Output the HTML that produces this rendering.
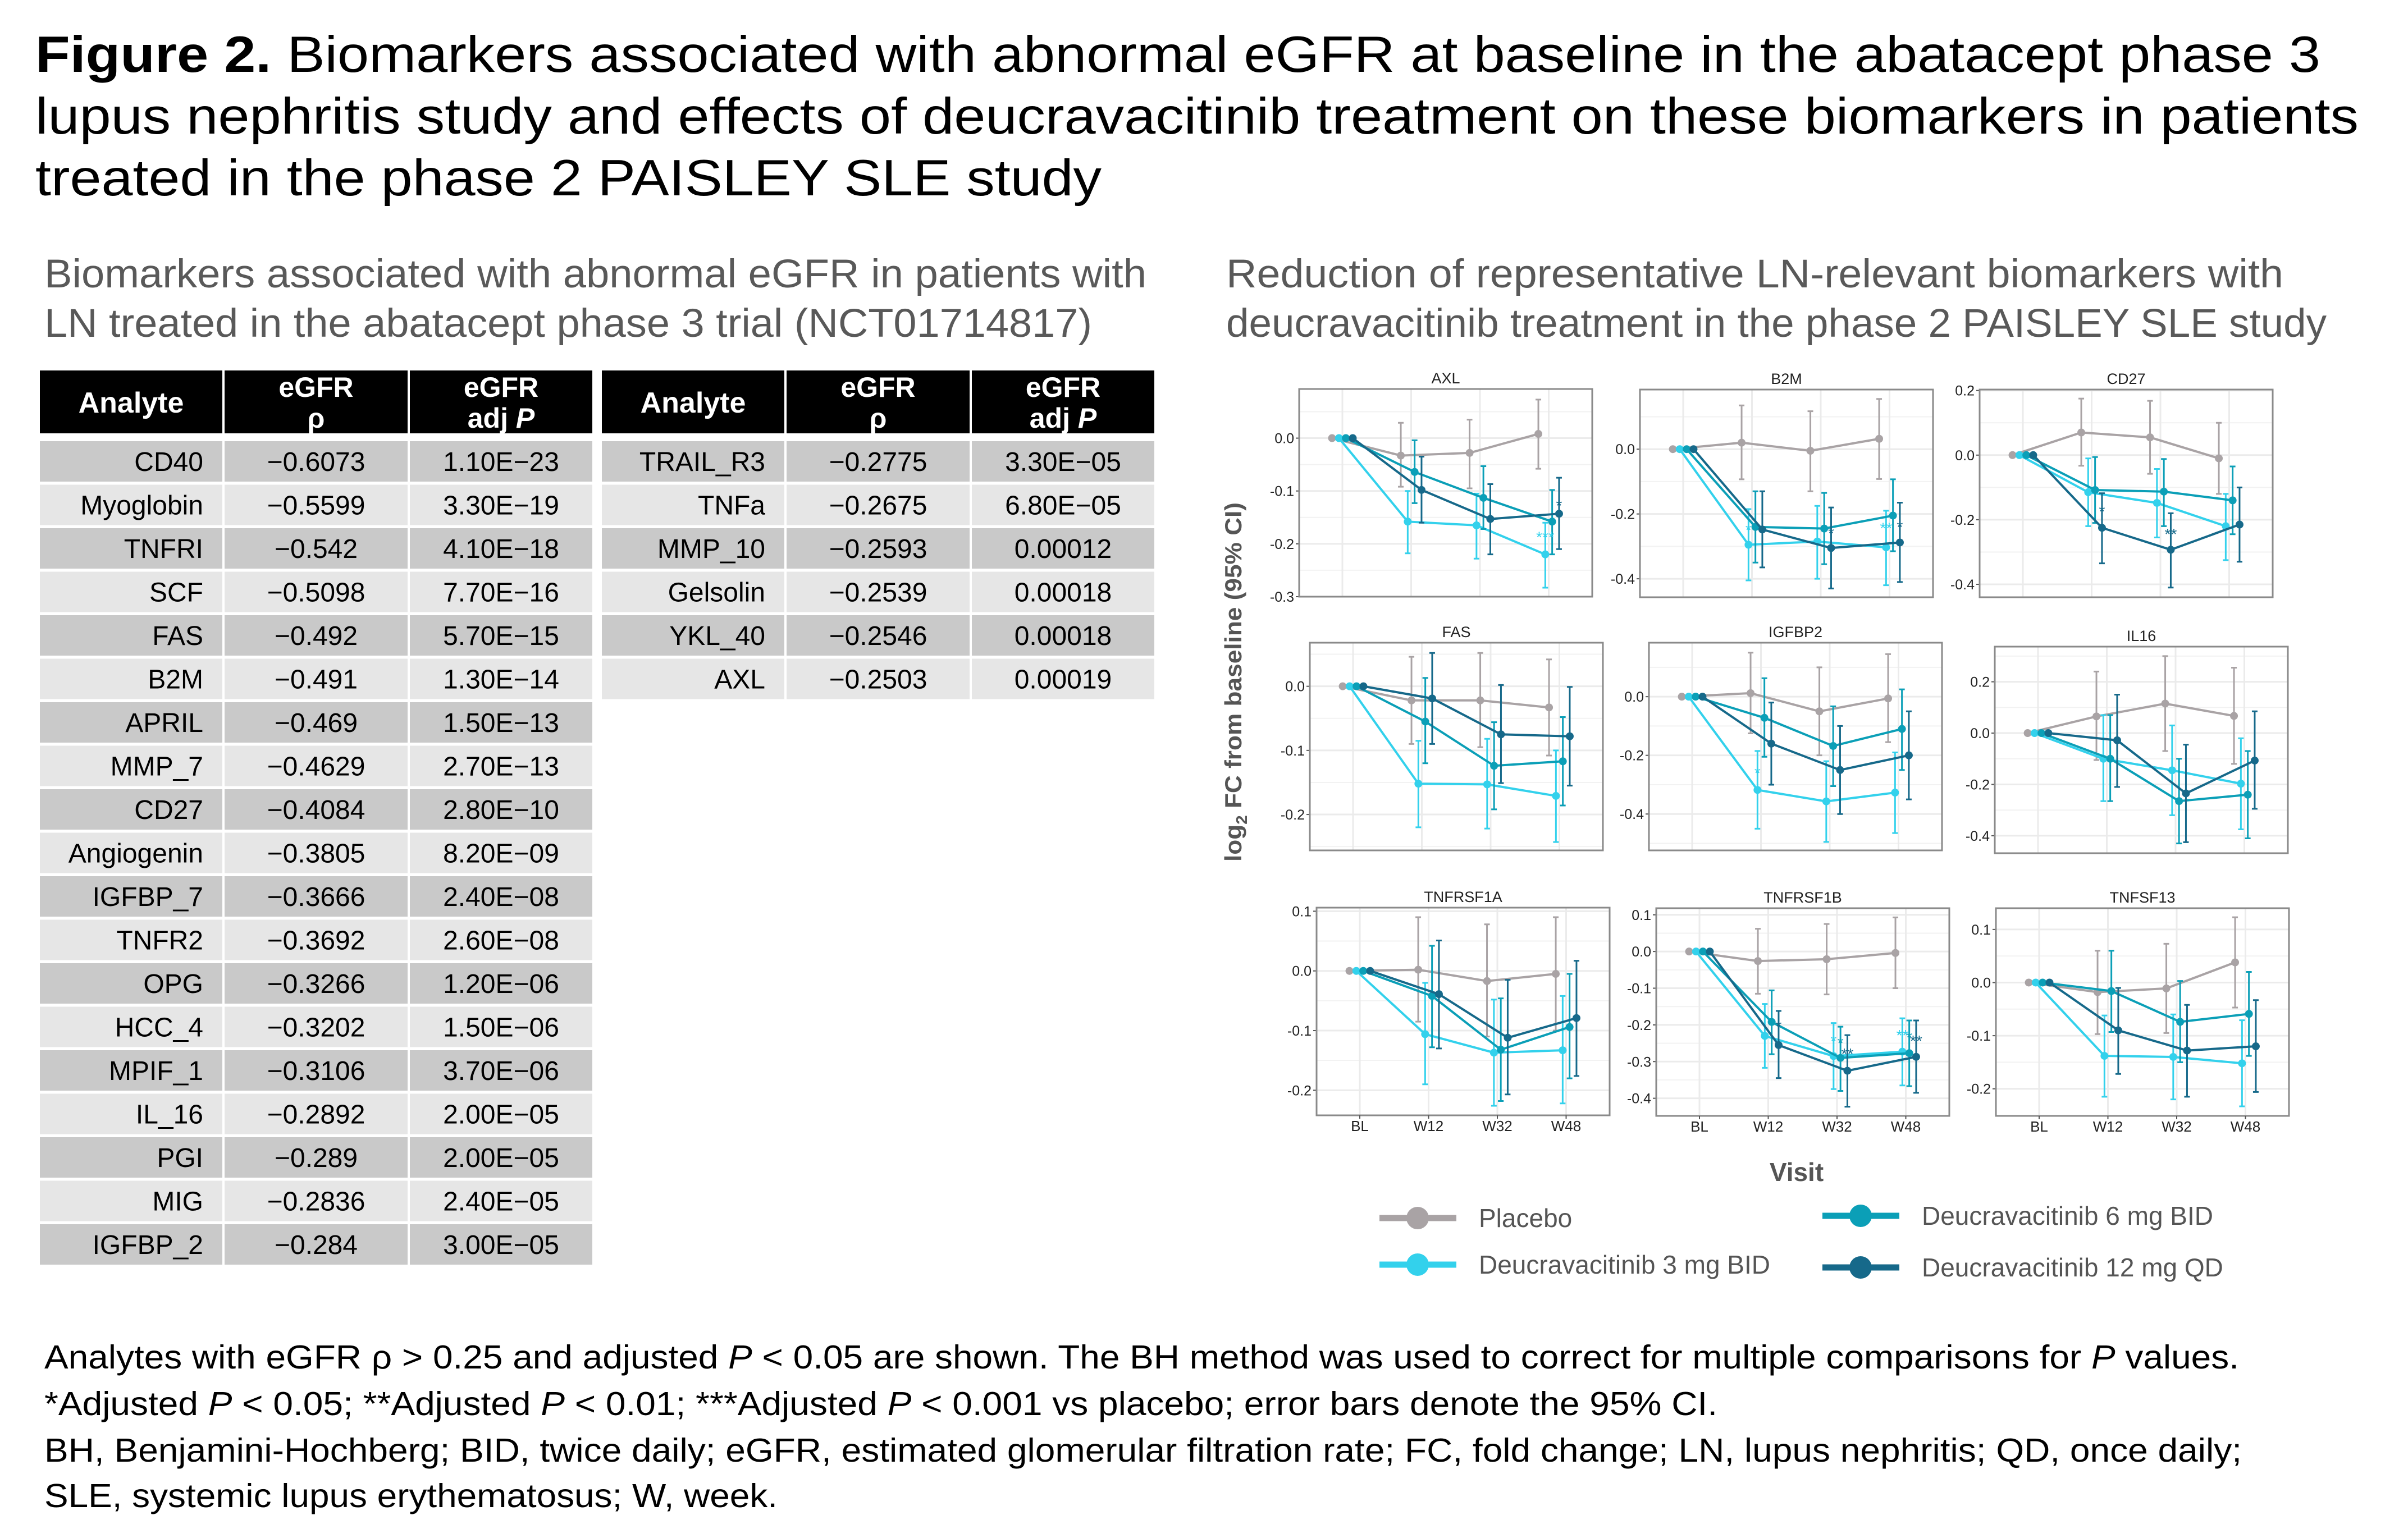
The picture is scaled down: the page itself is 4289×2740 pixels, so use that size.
<!DOCTYPE html>
<html><head><meta charset="utf-8"><title>Figure 2</title>
<style>html,body{margin:0;padding:0;background:#fff}svg{display:block}</style></head>
<body>
<svg id="fig" xmlns="http://www.w3.org/2000/svg" width="4289" height="2740" viewBox="0 0 4289 2740" font-family="'Liberation Sans', sans-serif">
<rect x="0" y="0" width="4289" height="2740" fill="#fff"/>
<g font-size="91" fill="#000">
<text x="63" y="128" textLength="4070" lengthAdjust="spacingAndGlyphs"><tspan font-weight="bold">Figure 2.</tspan> Biomarkers associated with abnormal eGFR at baseline in the abatacept phase 3</text>
<text x="63" y="238" textLength="4138" lengthAdjust="spacingAndGlyphs">lupus nephritis study and effects of deucravacitinib treatment on these biomarkers in patients</text>
<text x="63" y="348" textLength="1899" lengthAdjust="spacingAndGlyphs">treated in the phase 2 PAISLEY SLE study</text>
</g>
<g font-size="71" fill="#595959">
<text x="79" y="512" textLength="1963" lengthAdjust="spacingAndGlyphs">Biomarkers associated with abnormal eGFR in patients with</text>
<text x="79" y="600" textLength="1866" lengthAdjust="spacingAndGlyphs">LN treated in the abatacept phase 3 trial (NCT01714817)</text>
</g>
<g font-size="71" fill="#595959">
<text x="2184" y="512" textLength="1883" lengthAdjust="spacingAndGlyphs">Reduction of representative LN-relevant biomarkers with</text>
<text x="2184" y="600" textLength="1960" lengthAdjust="spacingAndGlyphs">deucravacitinib treatment in the phase 2 PAISLEY SLE study</text>
</g>
<g id="tables"></g>
<g id="charts"></g>
<text x="2211" y="1215" transform="rotate(-90 2211 1215)" text-anchor="middle" font-size="42" font-weight="bold" fill="#555" textLength="640" lengthAdjust="spacingAndGlyphs">log<tspan font-size="28" dy="10">2</tspan><tspan dy="-10"> FC from baseline (95% CI)</tspan></text>
<text x="3200" y="2104" text-anchor="middle" font-size="46" font-weight="bold" fill="#555">Visit</text>
<g id="legend"></g>
<g font-size="59" fill="#000">
<text x="79" y="2438" textLength="3909" lengthAdjust="spacingAndGlyphs">Analytes with eGFR ρ &gt; 0.25 and adjusted <tspan font-style="italic">P</tspan> &lt; 0.05 are shown. The BH method was used to correct for multiple comparisons for <tspan font-style="italic">P</tspan> values.</text>
<text x="79" y="2521" textLength="2980" lengthAdjust="spacingAndGlyphs">*Adjusted <tspan font-style="italic">P</tspan> &lt; 0.05; **Adjusted <tspan font-style="italic">P</tspan> &lt; 0.01; ***Adjusted <tspan font-style="italic">P</tspan> &lt; 0.001 vs placebo; error bars denote the 95% CI.</text>
<text x="79" y="2604" textLength="3914" lengthAdjust="spacingAndGlyphs">BH, Benjamini-Hochberg; BID, twice daily; eGFR, estimated glomerular filtration rate; FC, fold change; LN, lupus nephritis; QD, once daily;</text>
<text x="79" y="2685" textLength="1306" lengthAdjust="spacingAndGlyphs">SLE, systemic lupus erythematosus; W, week.</text>
</g>
</svg>
<script>
// ---------- table data ----------
const leftAnalytes = ["CD40","Myoglobin","TNFRI","SCF","FAS","B2M","APRIL","MMP_7","CD27","Angiogenin","IGFBP_7","TNFR2","OPG","HCC_4","MPIF_1","IL_16","PGI","MIG","IGFBP_2"];
const leftRho = ["−0.6073","−0.5599","−0.542","−0.5098","−0.492","−0.491","−0.469","−0.4629","−0.4084","−0.3805","−0.3666","−0.3692","−0.3266","−0.3202","−0.3106","−0.2892","−0.289","−0.2836","−0.284"];
const leftP = ["1.10E−23","3.30E−19","4.10E−18","7.70E−16","5.70E−15","1.30E−14","1.50E−13","2.70E−13","2.80E−10","8.20E−09","2.40E−08","2.60E−08","1.20E−06","1.50E−06","3.70E−06","2.00E−05","2.00E−05","2.40E−05","3.00E−05"];
const rightAnalytes = ["TRAIL_R3","TNFa","MMP_10","Gelsolin","YKL_40","AXL"];
const rightRho = ["−0.2775","−0.2675","−0.2593","−0.2539","−0.2546","−0.2503"];
const rightP = ["3.30E−05","6.80E−05","0.00012","0.00018","0.00018","0.00019"];

// ---------- chart data ----------
const panelNames = ["AXL","B2M","CD27","FAS","IGFBP2","IL16","TNFRSF1A","TNFRSF1B","TNFSF13"];
const visitLabels = ["BL","W12","W32","W48"];
const seriesNames = ["Placebo","Deucravacitinib 3 mg BID","Deucravacitinib 6 mg BID","Deucravacitinib 12 mg QD"];
// mean [series][W12,W32,W48]; BL = 0
const meanAXL = [[-0.033,-0.028,0.008],[-0.158,-0.165,-0.22],[-0.064,-0.113,-0.158],[-0.098,-0.153,-0.143]];
const loAXL = [[-0.092,-0.095,-0.058],[-0.218,-0.228,-0.283],[-0.123,-0.172,-0.22],[-0.16,-0.22,-0.21]];
const hiAXL = [[0.029,0.035,0.073],[-0.1,-0.105,-0.16],[-0.004,-0.053,-0.098],[-0.035,-0.087,-0.075]];
const meanB2M = [[0.02,-0.005,0.032],[-0.295,-0.285,-0.303],[-0.24,-0.245,-0.205],[-0.248,-0.305,-0.288]];
const loB2M = [[-0.093,-0.13,-0.092],[-0.405,-0.4,-0.42],[-0.35,-0.355,-0.315],[-0.365,-0.43,-0.41]];
const hiB2M = [[0.135,0.117,0.155],[-0.185,-0.175,-0.19],[-0.13,-0.135,-0.093],[-0.13,-0.18,-0.165]];
const meanCD27 = [[0.07,0.055,-0.01],[-0.115,-0.148,-0.22],[-0.108,-0.113,-0.14],[-0.225,-0.293,-0.215]];
const loCD27 = [[-0.033,-0.058,-0.12],[-0.22,-0.255,-0.325],[-0.21,-0.22,-0.245],[-0.335,-0.41,-0.33]];
const hiCD27 = [[0.175,0.168,0.1],[-0.01,-0.043,-0.12],[-0.006,-0.012,-0.035],[-0.118,-0.18,-0.1]];
const meanFAS = [[-0.022,-0.022,-0.033],[-0.152,-0.153,-0.171],[-0.055,-0.124,-0.117],[-0.019,-0.075,-0.078]];
const loFAS = [[-0.09,-0.095,-0.108],[-0.22,-0.222,-0.243],[-0.12,-0.192,-0.186],[-0.09,-0.151,-0.155]];
const hiFAS = [[0.046,0.052,0.042],[-0.085,-0.082,-0.1],[0.013,-0.056,-0.048],[0.052,0.002,-0.001]];
const meanIGFBP2 = [[0.012,-0.05,-0.006],[-0.318,-0.357,-0.327],[-0.072,-0.168,-0.11],[-0.16,-0.25,-0.2]];
const loIGFBP2 = [[-0.125,-0.2,-0.155],[-0.45,-0.495,-0.465],[-0.205,-0.305,-0.25],[-0.3,-0.4,-0.35]];
const hiIGFBP2 = [[0.15,0.1,0.145],[-0.185,-0.22,-0.19],[0.063,-0.033,0.025],[-0.02,-0.1,-0.05]];
const meanIL16 = [[0.065,0.115,0.067],[-0.1,-0.145,-0.197],[-0.1,-0.265,-0.24],[-0.028,-0.235,-0.107]];
const loIL16 = [[-0.105,-0.07,-0.12],[-0.265,-0.32,-0.375],[-0.265,-0.43,-0.41],[-0.21,-0.425,-0.295]];
const hiIL16 = [[0.24,0.3,0.255],[0.07,0.03,-0.02],[0.07,-0.1,-0.07],[0.15,-0.045,0.085]];
const meanTNFRSF1A = [[0.002,-0.017,-0.005],[-0.106,-0.137,-0.133],[-0.042,-0.132,-0.094],[-0.039,-0.112,-0.079]];
const loTNFRSF1A = [[-0.085,-0.11,-0.1],[-0.19,-0.226,-0.222],[-0.128,-0.218,-0.18],[-0.13,-0.207,-0.176]];
const hiTNFRSF1A = [[0.09,0.078,0.09],[-0.02,-0.048,-0.042],[0.042,-0.046,-0.005],[0.051,-0.015,0.017]];
const meanTNFRSF1B = [[-0.026,-0.021,-0.004],[-0.23,-0.285,-0.273],[-0.192,-0.29,-0.277],[-0.255,-0.325,-0.287]];
const loTNFRSF1B = [[-0.115,-0.117,-0.1],[-0.317,-0.375,-0.365],[-0.28,-0.38,-0.367],[-0.345,-0.423,-0.385]];
const hiTNFRSF1B = [[0.062,0.075,0.093],[-0.143,-0.195,-0.182],[-0.106,-0.205,-0.188],[-0.162,-0.228,-0.188]];
const meanTNFSF13 = [[-0.018,-0.011,0.038],[-0.138,-0.14,-0.152],[-0.016,-0.074,-0.059],[-0.09,-0.128,-0.12]];
const loTNFSF13 = [[-0.097,-0.095,-0.047],[-0.215,-0.22,-0.233],[-0.093,-0.15,-0.138],[-0.172,-0.215,-0.206]];
const hiTNFSF13 = [[0.06,0.073,0.123],[-0.062,-0.06,-0.071],[0.06,0.003,0.02],[-0.01,-0.042,-0.033]];
// y-axis domains and tick labels
const yMins = [-0.3,-0.457,-0.44,-0.256,-0.524,-0.468,-0.242,-0.448,-0.251];
const yMaxs = [0.093,0.184,0.203,0.068,0.184,0.337,0.106,0.118,0.14];
const yTicks = [[0,-0.1,-0.2,-0.3],[0,-0.2,-0.4],[0.2,0,-0.2,-0.4],[0,-0.1,-0.2],[0,-0.2,-0.4],[0.2,0,-0.2,-0.4],[0.1,0,-0.1,-0.2],[0.1,0,-0.1,-0.2,-0.3,-0.4],[0.1,0,-0.1,-0.2]];
// significance stars: panel, series, visit index, y value, label
const starPanel = [0,0,1,1,1,1,2,2,4,7,7,7,7,7,7,7];
const starSeries = [1,3,1,1,3,3,3,3,1,3,1,2,3,1,2,3];
const starVisit = [3,3,1,3,2,3,1,2,1,1,2,2,2,3,3,3];
const starValue = [-0.185,-0.125,-0.245,-0.24,-0.255,-0.235,-0.17,-0.24,-0.255,-0.2,-0.24,-0.245,-0.275,-0.225,-0.23,-0.24];
const starLabel = ["***","*","*","**","*","*","*","**","*","*","*","*","**","**","*","**"];

const means = [meanAXL,meanB2M,meanCD27,meanFAS,meanIGFBP2,meanIL16,meanTNFRSF1A,meanTNFRSF1B,meanTNFSF13];
const los = [loAXL,loB2M,loCD27,loFAS,loIGFBP2,loIL16,loTNFRSF1A,loTNFRSF1B,loTNFSF13];
const his = [hiAXL,hiB2M,hiCD27,hiFAS,hiIGFBP2,hiIL16,hiTNFRSF1A,hiTNFRSF1B,hiTNFSF13];

// ---------- layout (not data) ----------
const boxX = [2314,2921,3526,2333,2937,3553,2345,2950,3555];
const boxY = [693,694,694,1145,1145,1152,1617,1618,1618];
const boxW = 522, boxH = 370;
const colors = ["#a9a3a5","#33d1ec","#0b9fb7","#16698a"];

const NS = "http://www.w3.org/2000/svg";
function mk(tag, attrs, parent){ const e=document.createElementNS(NS,tag); for(const k in attrs) e.setAttribute(k,attrs[k]); parent.appendChild(e); return e; }
function fmt(v){ return v===0 ? "0.0" : v.toFixed(1); }

// ---------- tables ----------
const tables = document.getElementById('tables');
function drawTable(x0, analytes, rho, pv, tname){
  const g = mk('g',{},tables);
  
  
  const cw = [325,326,325], cx = [x0, x0+329, x0+659];
  for(let c=0;c<3;c++){
    const h = mk('rect',{x:cx[c],y:660,width:cw[c],height:112,fill:'#000'},g);
    
    
  }
  const ht = mk('text',{x:cx[0]+cw[0]/2,y:735,'text-anchor':'middle','font-size':52,'font-weight':'bold',fill:'#fff'},g);
  ht.textContent='Analyte';
  
  
  const l1=['eGFR','eGFR'], l2=['ρ','adj P'];
  for(let c=1;c<3;c++){
    const t1 = mk('text',{x:cx[c]+cw[c]/2,y:707,'text-anchor':'middle','font-size':50,'font-weight':'bold',fill:'#fff'},g);
    t1.textContent=l1[c-1];
    
    
    const t2 = mk('text',{x:cx[c]+cw[c]/2,y:762,'text-anchor':'middle','font-size':50,'font-weight':'bold',fill:'#fff'},g);
    if(c===2){ t2.innerHTML='adj <tspan font-style="italic">P</tspan>'; } else { t2.textContent=l2[0]; }
    
    
  }
  for(let r=0;r<analytes.length;r++){
    const y = 786 + r*77.5;
    const fill = r%2===0 ? '#c9c9c9' : '#e6e6e6';
    const vals=[analytes[r],rho[r],pv[r]];
    for(let c=0;c<3;c++){
      const rc = mk('rect',{x:cx[c],y:y,width:cw[c],height:72,fill:fill},g);
      
      
      const tx = c===0 ? cx[c]+cw[c]-34 : cx[c]+cw[c]/2;
      const t = mk('text',{x:tx,y:y+53,'text-anchor':c===0?'end':'middle','font-size':48,fill:'#000'},g);
      t.textContent = vals[c];
      
      
    }
  }
}
drawTable(71, leftAnalytes, leftRho, leftP, 'table-left');
drawTable(1072, rightAnalytes, rightRho, rightP, 'table-right');

// ---------- charts ----------
const charts = document.getElementById('charts');
for(let p=0;p<panelNames.length;p++){
  const g = mk('g',{},charts);
  
  
  const X0=boxX[p], Y0=boxY[p], H = p===5?368:boxH;
  const ymin=yMins[p], ymax=yMaxs[p];
  const ys = v => Y0 + (ymax - v)/(ymax-ymin)*H;
  const xs = (vi,si) => X0 + 77 + vi*122.5 + (si-1.5)*12.3;
  const xg = vi => X0 + 77 + vi*122.5;
  mk('rect',{x:X0,y:Y0,width:boxW,height:H,fill:'#fff'},g);
  const tk = yTicks[p]; const step = Math.abs(tk[0]-tk[1]);
  for(let v = tk[tk.length-1]-step; v<=ymax+step; v+=step/2){
    const yy = ys(v); if(yy<Y0+1||yy>Y0+H-1) continue;
    mk('line',{x1:X0,x2:X0+boxW,y1:yy,y2:yy,stroke:'#f2f2f2','stroke-width':2},g);
  }
  for(let vi=0;vi<4;vi++){
    mk('line',{x1:xg(vi),x2:xg(vi),y1:Y0,y2:Y0+H,stroke:'#ebebeb','stroke-width':3},g);
  }
  for(const v of tk){
    const yy=ys(v);
    mk('line',{x1:X0,x2:X0+boxW,y1:yy,y2:yy,stroke:'#ebebeb','stroke-width':3},g);
    mk('line',{x1:X0-6,x2:X0,y1:yy,y2:yy,stroke:'#555','stroke-width':2},g);
    const t = mk('text',{x:X0-9,y:yy+9,'text-anchor':'end','font-size':25,fill:'#222'},g);
    t.textContent = fmt(v);
    
    
  }
  mk('rect',{x:X0,y:Y0,width:boxW,height:H,fill:'none',stroke:'#8a8a8a','stroke-width':3},g);
  const tt = mk('text',{x:X0+boxW/2,y:Y0-10,'text-anchor':'middle','font-size':27,fill:'#222'},g);
  tt.textContent = panelNames[p];
  
  
  if(p>=6){
    for(let vi=0;vi<4;vi++){
      mk('line',{x1:xg(vi),x2:xg(vi),y1:Y0+H,y2:Y0+H+6,stroke:'#555','stroke-width':2},g);
      const xt = mk('text',{x:xg(vi),y:Y0+H+28,'text-anchor':'middle','font-size':26,fill:'#222'},g);
      xt.textContent = visitLabels[vi];
      
      
    }
  }
  for(let s=0;s<4;s++){
    const sg = mk('g',{},g);
    
    
    const vals=[0].concat(means[p][s]);
    for(let vi=1;vi<4;vi++){
      const xx=xs(vi,s), y1=ys(his[p][s][vi-1]), y2=ys(los[p][s][vi-1]);
      const eb = mk('path',{d:`M${xx},${y1}V${y2}M${xx-5},${y1}H${xx+5}M${xx-5},${y2}H${xx+5}`,stroke:colors[s],'stroke-width':3,fill:'none'},sg);
      
      
    }
    const pts = vals.map((v,vi)=>xs(vi,s)+','+ys(v)).join(' ');
    const ln = mk('polyline',{points:pts,fill:'none',stroke:colors[s],'stroke-width':4},sg);
    
    
    for(let vi=0;vi<4;vi++){
      const c = mk('circle',{cx:xs(vi,s),cy:ys(vals[vi]),r:7,fill:colors[s]},sg);
      
      
    }
  }
  for(let k=0;k<starPanel.length;k++){
    if(starPanel[k]!==p) continue;
    const st = mk('text',{x:xs(starVisit[k],starSeries[k]),y:ys(starValue[k])+12,'text-anchor':'middle','font-size':28,fill:colors[starSeries[k]]},g);
    st.textContent = starLabel[k];
    
    
  }
}

// ---------- legend ----------
const legend = document.getElementById('legend');
const legX = [2457,2457,3246,3246], legY=[2170,2253,2166,2258];
for(let s=0;s<4;s++){
  const g = mk('g',{},legend);
  
  
  mk('line',{x1:legX[s],x2:legX[s]+137,y1:legY[s],y2:legY[s],stroke:colors[s],'stroke-width':11},g);
  mk('circle',{cx:legX[s]+68,cy:legY[s],r:20,fill:colors[s]},g);
  const t = mk('text',{x:legX[s]+177,y:legY[s]+16,'font-size':46,fill:'#555'},g);
  t.textContent = seriesNames[s];
  
  
}
</script>
</body></html>
